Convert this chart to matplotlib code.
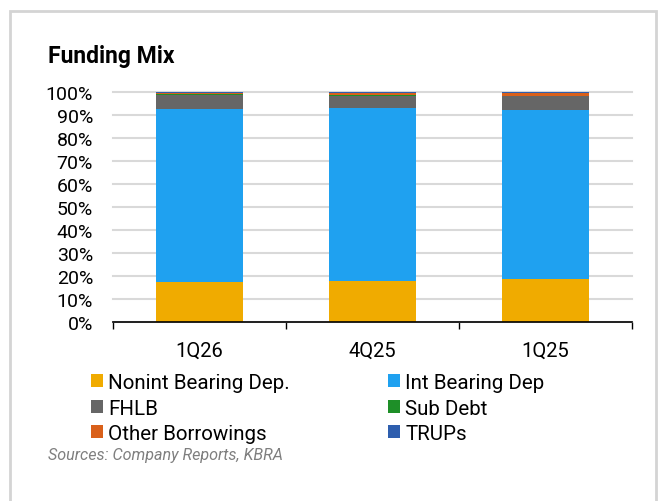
import matplotlib
matplotlib.use('Agg')
import numpy as np
import matplotlib.pyplot as plt
from matplotlib.patches import Rectangle

plt.rcParams['font.family'] = ['Roboto', 'DejaVu Sans']

quarters = ['1Q26', '4Q25', '1Q25']
series = ['Nonint Bearing Dep.', 'Int Bearing Dep', 'FHLB', 'Sub Debt', 'Other Borrowings', 'TRUPs']
nonint = [17.7, 18.0, 19.0]
intbearing = [75.2, 75.0, 73.3]
fhlb = [6.0, 5.2, 6.0]
subdebt = [0.4, 0.5, 0.2]
other = [0.4, 0.8, 1.0]
trups = [0.3, 0.5, 0.5]
colors = ['#F0AB00', '#1FA1F0', '#666666', '#1E8F28', '#D9601A', '#2E5EAE']

values = [nonint, intbearing, fhlb, subdebt, other, trups]

fig = plt.figure(figsize=(6.6, 5.02), dpi=100)
fig.patches.append(Rectangle((10/660, -0.05), 646/660, 1 - 12/502 + 0.05, transform=fig.transFigure,
                             fill=False, edgecolor='#d4d4d4', linewidth=2))

ax = fig.add_axes([113/660, 1 - 323.3/502, 519/660, 230/502])
x = np.arange(len(quarters))
bottom = np.zeros(len(quarters))
handles = []
for name, vals, c in zip(series, values, colors):
    v = np.array(vals) / 100
    b = ax.bar(x, v, 0.5, bottom=bottom, color=c, label=name, zorder=3)
    handles.append(b)
    bottom += v

ax.set_xlim(-0.5, 2.5)
ax.set_ylim(0, 1)
ax.set_yticks(np.arange(0, 1.01, 0.1))
ax.set_yticklabels([f'{int(round(t*100))}%' for t in np.arange(0, 1.01, 0.1)], fontsize=14)
ax.set_xticks(x)
ax.set_xticklabels(quarters, fontsize=14.5)
ax.set_xticks([-0.5, 0.5, 1.5, 2.5], minor=True)
ax.tick_params(axis='x', which='major', length=0, pad=13.5)
ax.tick_params(axis='x', which='minor', length=5, width=1, direction='out')
ax.tick_params(axis='y', length=0, pad=14.4)
ax.yaxis.grid(True, color='#d9d9d9', linewidth=1.5, zorder=0)
for gl in ax.get_ygridlines():
    gl.set_clip_on(False)
for s in ['top', 'right', 'left']:
    ax.spines[s].set_visible(False)
ax.spines['bottom'].set_linewidth(1.2)
ax.spines['bottom'].set_zorder(4)

fig.text(48/660, 1 - 57/502, 'Funding Mix', fontsize=16.5, fontweight='bold', va='center', ha='left')

order = [0, 2, 4, 1, 3, 5]
fig.legend([handles[i] for i in order], [series[i] for i in order], ncol=2,
           loc='upper left', bbox_to_anchor=(91/660, 1 - 374/502), frameon=False,
           fontsize=14.8, handlelength=0.6, handleheight=0.6, handletextpad=0.25,
           columnspacing=4.75, labelspacing=0.32, borderaxespad=0, borderpad=0)

fig.text(48/660, 1 - 456/502, 'Sources: Company Reports, KBRA', fontsize=11.6, style='italic',
         color='#7f7f7f', va='center', ha='left')

plt.savefig('out.png', dpi=100)
